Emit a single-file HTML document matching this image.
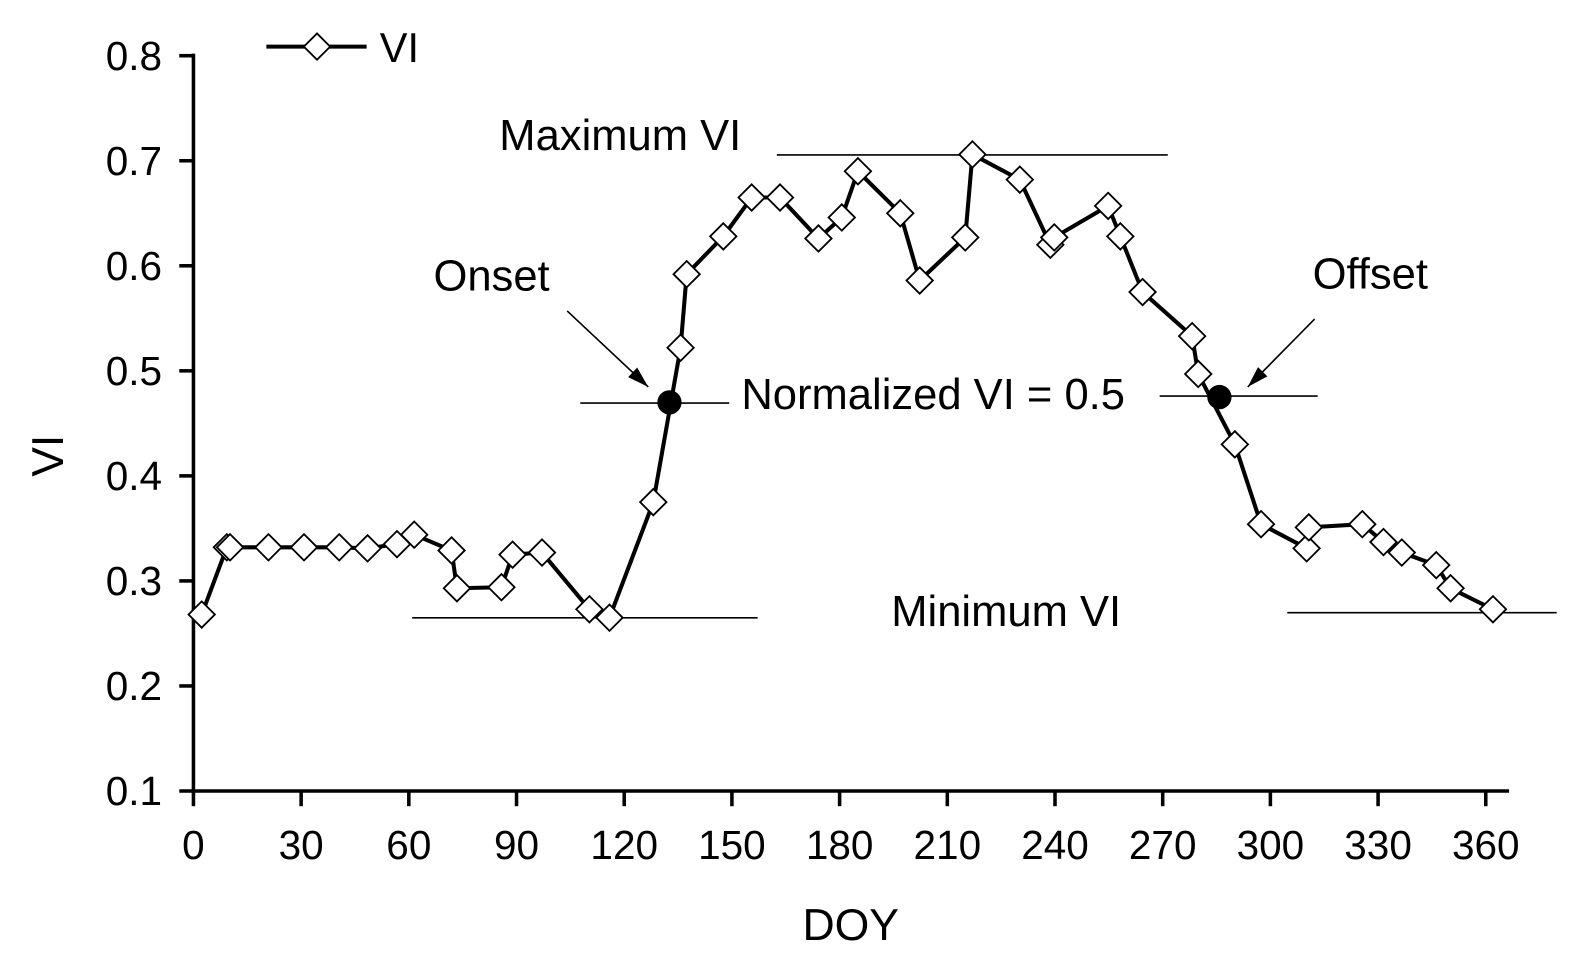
<!DOCTYPE html>
<html><head><meta charset="utf-8"><style>
html,body{margin:0;padding:0;background:#fff;}
svg{display:block;font-family:"Liberation Sans",Arial,sans-serif;}
</style></head><body>
<svg id="chart" width="1588" height="971" viewBox="0 0 1588 971" xmlns="http://www.w3.org/2000/svg"><g id="root" transform="scale(1.0128)"></g></svg>
<script>
const doy = [2.3,9.3,10.2,20.9,30.8,40.6,48.5,56.7,61.5,71.9,73.4,85.8,88.9,97.1,110.3,115.9,128.1,135.7,137.4,147.6,155.5,163.4,174.1,180.6,185.1,196.9,202.3,215,217,230.2,238.7,239.8,254.8,258.2,264.4,278.2,279.9,290.1,297.4,310.1,310.7,325.6,331.5,336.6,346.2,350.2,362.0];
const vi = [0.268,0.332,0.332,0.332,0.332,0.332,0.331,0.335,0.344,0.329,0.293,0.294,0.325,0.327,0.273,0.265,0.375,0.522,0.592,0.628,0.665,0.665,0.626,0.646,0.690,0.650,0.586,0.627,0.706,0.682,0.620,0.627,0.657,0.628,0.575,0.533,0.497,0.430,0.354,0.331,0.351,0.354,0.337,0.327,0.315,0.293,0.273];
const keyDoy = [132.6,285.8];
const keyVi = [0.470,0.475];
const xTicks = [0,30,60,90,120,150,180,210,240,270,300,330,360];
const yTicks = [0.1,0.2,0.3,0.4,0.5,0.6,0.7,0.8];

const svg = document.getElementById('root');
const NS = 'http://www.w3.org/2000/svg';
const X = d => 191 + d * (1276/360);
const Y = v => 781 - (v - 0.1) * (726/0.7);
function mk(tag, attrs, parent){const e=document.createElementNS(NS,tag);for(const k in attrs)e.setAttribute(k,attrs[k]);(parent||svg).appendChild(e);return e;}
function txt(x,y,s,size,anchor){const t=mk('text',{x:x,y:y,'font-size':size,'text-anchor':anchor||'start',fill:'#000'});t.textContent=s;return t;}

const ya = mk('line',{x1:191,y1:53,x2:191,y2:782,stroke:'#000','stroke-width':3.5});


const xa = mk('line',{x1:190,y1:781,x2:1490,y2:781,stroke:'#000','stroke-width':3.5});


xTicks.forEach(t=>{
  mk('line',{x1:X(t),y1:781,x2:X(t),y2:796,stroke:'#000','stroke-width':3.5});
  const l=txt(X(t),848,String(t),40,'middle');
  
  
});
yTicks.forEach(t=>{
  mk('line',{x1:177,y1:Y(t),x2:191,y2:Y(t),stroke:'#000','stroke-width':3.5});
  const l=txt(160,Y(t)+14,t.toFixed(1),40,'end');
  
  
});
const xt = txt(840,928,'DOY',44,'middle');


const yt = txt(0,0,'VI',44,'middle');
yt.setAttribute('transform','translate(62,450) rotate(-90)');



function hl(x1,x2,y,name){const l=mk('line',{x1:x1,y1:y,x2:x2,y2:y,stroke:'#000','stroke-width':1.6});}
hl(767,1153,153,'maximum-vi-line');
hl(407,748,610,'minimum-vi-line');
hl(1271,1537,605,'minimum-vi-line-2');
hl(573,720,398,'onset-threshold-line');
hl(1145,1301,391,'offset-threshold-line');
function arrow(x1,y1,x2,y2,name){
  const g=mk('g',{});
  mk('line',{x1:x1,y1:y1,x2:x2,y2:y2,stroke:'#000','stroke-width':1.6},g);
  const a=Math.atan2(y2-y1,x2-x1),L=22,w=0.3;
  mk('polygon',{points:`${x2},${y2} ${x2-L*Math.cos(a-w)},${y2-L*Math.sin(a-w)} ${x2-L*Math.cos(a+w)},${y2-L*Math.sin(a+w)}`,fill:'#000'},g);
}
arrow(560,307,640,382,'onset-arrow');
arrow(1298,315,1232,382,'offset-arrow');
[['Maximum VI',493,148,'maximum-vi-label'],['Onset',428,287,'onset-label'],['Offset',1296,285,'offset-label'],['Normalized VI = 0.5',732,404,'normalized-vi-label'],['Minimum VI',880,618,'minimum-vi-label']].forEach(a=>{
  const t=txt(a[1],a[2],a[0],43);
});

const pl = mk('polyline',{points:doy.map((d,i)=>X(d)+','+Y(vi[i])).join(' '),fill:'none',stroke:'#000','stroke-width':4,'stroke-linejoin':'round'});


function diamond(cx,cy,g){return mk('polygon',{points:`${cx},${cy-13} ${cx+13},${cy} ${cx},${cy+13} ${cx-13},${cy}`,fill:'#fff',stroke:'#000','stroke-width':1.8},g);}
doy.forEach((d,i)=>{
  const p=diamond(X(d),Y(vi[i]));
  
  
});
keyDoy.forEach((d,i)=>{
  const c=mk('circle',{cx:X(d),cy:Y(keyVi[i]),r:12,fill:'#000'});
  
  
});

const lg = mk('g',{});


mk('line',{x1:263,y1:46,x2:362,y2:46,stroke:'#000','stroke-width':4},lg);
diamond(313,46,lg);
const lt=txt(375,61,'VI',41);lg.appendChild(lt);
</script>
</body></html>
